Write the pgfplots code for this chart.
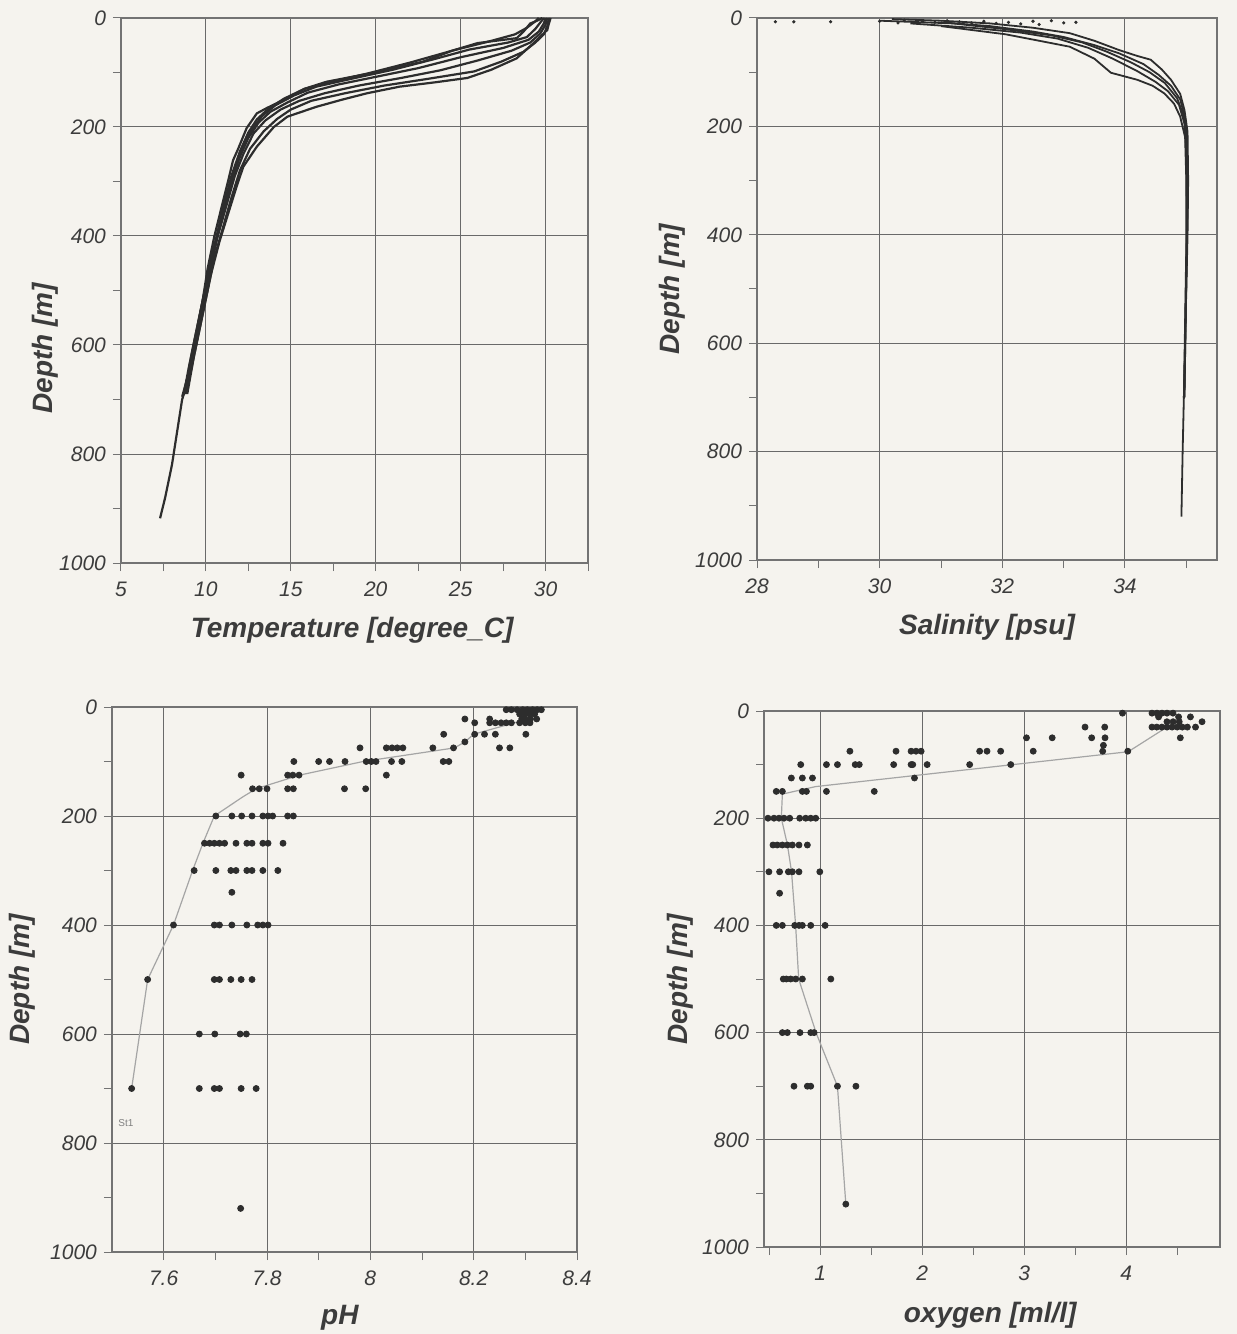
\documentclass[border=0pt]{standalone}
\usepackage{fontspec}
\setmainfont{Liberation Sans}[ItalicFont={Liberation Sans Italic}, BoldFont={Liberation Sans Bold}, BoldItalicFont={Liberation Sans Bold Italic}]
\usepackage{pgfplots}
\pgfplotsset{compat=1.18}
\definecolor{bgc}{RGB}{245,243,238}
\definecolor{gridc}{RGB}{105,105,105}
\definecolor{framec}{RGB}{115,115,115}
\definecolor{txtc}{RGB}{60,60,60}
\definecolor{datac}{RGB}{45,45,45}
\definecolor{meanc}{RGB}{165,165,165}
\newcommand{\tfont}{\fontsize{10.5}{12}\selectfont\itshape}
\newcommand{\lfont}{\fontsize{14}{16}\selectfont\bfseries\itshape}
\tikzset{wm/.style={rotate=90, anchor=north west, font=\fontsize{4}{5}\selectfont, text=gray}}
\pgfplotsset{
 odv/.style={
  scale only axis, anchor=south west,
  y dir=reverse, ymin=0, ymax=1000,
  ytick={0,200,...,1000}, minor ytick={100,300,...,900},
  grid=major, major grid style={gridc, line width=0.5pt},
  axis line style={framec, line width=0.6pt},
  tick style={framec, line width=0.5pt},
  major tick length=4pt, minor tick length=4pt,
  tick align=outside,
  xtick pos=left, ytick pos=left,
  /pgf/number format/assume math mode=true,
  /pgf/number format/1000 sep={},
  xticklabel style={font=\tfont, text=txtc, yshift=-2pt},
  yticklabel style={font=\tfont, text=txtc},
  every axis y label/.style={rotate=90, anchor=center, font=\lfont, text=txtc},
  every axis x label/.style={anchor=center, font=\lfont, text=txtc},
  ylabel={Depth [m]},
 },
 prof/.style={datac, line width=1.1pt},
 sprof/.style={datac, line width=0.9pt},
 dots/.style={only marks, mark=*, mark size=1.5pt, datac},
 meanl/.style={meanc, line width=0.6pt, mark=none},
}
\begin{document}
\begin{tikzpicture}
\fill[bgc, use as bounding box] (0,0) rectangle (618.5pt,667pt);

% ---------------- Temperature ----------------
\begin{axis}[odv, at={(60.5pt,385.5pt)}, width=233.5pt, height=272.5pt,
  xmin=5, xmax=32.5, xtick={5,10,...,30}, minor xtick={7.5,12.5,...,32.5},
  xlabel={Temperature [degree\_C]},
  xlabel style={at={(axis description cs:0.495,-0.123)}},
  ylabel style={at={(axis description cs:-0.163,0.394)}}]
\addplot[prof] coordinates {(29.8,0)(29.5,5)(29.1,10)(28.7,25)(28.3,37)(26.0,46)(24.5,60)(22.8,80)(20.1,99)(17.1,117)(15.8,130)(14.8,147)(13.6,165)(13.0,175)(12.4,202)(11.9,240)(11.6,261)(11.3,300)(10.9,350)(10.5,400)(10.1,460)(9.8,520)(9.4,580)(9.0,640)(8.7,690)};
\addplot[prof] coordinates {(29.9,0)(29.7,8)(29.4,20)(28.9,35)(27.8,45)(25.5,58)(23.5,75)(21.0,95)(18.5,112)(16.5,126)(15.2,142)(14.1,160)(13.3,180)(12.7,205)(12.1,240)(11.7,275)(11.2,330)(10.8,380)(10.4,430)(10.0,490)(9.6,550)(9.2,610)(8.8,680)};
\addplot[prof] coordinates {(30.0,0)(29.9,10)(29.6,25)(29.0,40)(27.5,55)(25.0,72)(22.5,92)(20.0,108)(17.8,122)(16.0,137)(14.8,155)(13.8,172)(13.1,192)(12.5,220)(12.0,255)(11.5,300)(11.0,360)(10.6,410)(10.2,465)(9.8,525)(9.4,590)(9.0,650)(8.6,695)};
\addplot[prof] coordinates {(30.1,0)(30.0,12)(29.7,28)(29.1,45)(28.0,60)(26.0,78)(23.8,96)(21.5,110)(19.0,124)(17.0,138)(15.5,152)(14.4,168)(13.5,188)(12.8,212)(12.2,250)(11.7,290)(11.2,345)(10.7,400)(10.3,455)(9.9,515)(9.5,575)(9.1,640)(8.8,690)};
\addplot[prof] coordinates {(30.2,0)(30.1,15)(29.9,30)(29.4,45)(28.7,62)(27.4,80)(25.8,98)(23.0,112)(20.5,124)(18.2,138)(16.2,152)(15.0,168)(14.2,185)(13.4,208)(12.6,240)(12.0,280)(11.5,330)(11.0,385)(10.5,440)(10.1,500)(9.7,560)(9.3,620)(8.9,690)};
\addplot[prof] coordinates {(29.6,0)(29.4,6)(28.9,18)(28.2,30)(26.8,42)(24.5,60)(22.0,82)(19.5,102)(17.5,116)(15.8,130)(14.6,148)(13.7,166)(13.0,186)(12.5,210)(12.0,245)(11.5,290)(11.0,350)(10.6,405)(10.2,460)(9.8,520)(9.4,585)(9.0,650)(8.7,692)};
\addplot[prof] coordinates {(30.3,0)(30.2,10)(30.1,22)(29.3,46)(28.3,74)(26.8,95)(25.4,110)(23.5,118)(21.4,126)(19.5,138)(18.0,150)(16.5,163)(14.8,181)(14.0,200)(13.0,236)(12.2,273)(11.8,310)(11.3,360)(10.8,410)(10.3,470)(9.9,530)(9.5,590)(9.1,650)(8.6,700)(8.3,760)(8.0,820)(7.6,880)(7.3,918)};
\node[wm] at (axis description cs:1.008,0.005) {Ocean Data View};
\end{axis}

% ---------------- Salinity ----------------
\begin{axis}[odv, at={(378.5pt,387pt)}, width=230pt, height=271pt,
  xmin=28, xmax=35.5, xtick={28,30,32,34}, minor xtick={29,31,33,35},
  xlabel={Salinity [psu]},
  xlabel style={at={(axis description cs:0.5,-0.125)}},
  ylabel style={at={(axis description cs:-0.185,0.5)}}]
\addplot[sprof] coordinates {(30.2,2)(31.0,5)(31.8,10)(32.5,18)(33.1,28)(33.5,42)(33.9,59)(34.2,70)(34.42,77)(34.6,95)(34.75,114)(34.9,140)(34.97,170)(35.02,210)(35.03,300)(35.02,400)(35.0,500)(34.98,600)(34.97,700)};
\addplot[sprof] coordinates {(31.0,8)(31.8,15)(32.5,25)(33.0,35)(33.5,50)(33.9,65)(34.3,85)(34.55,105)(34.75,125)(34.9,150)(34.98,185)(35.01,230)(35.02,350)(35.0,480)(34.98,620)(34.96,700)};
\addplot[sprof] coordinates {(30.5,10)(31.5,18)(32.3,27)(32.9,38)(33.4,55)(33.8,75)(34.2,98)(34.5,118)(34.7,135)(34.88,160)(34.97,195)(35.0,250)(35.01,400)(34.99,550)(34.97,700)};
\addplot[sprof] coordinates {(31.0,15)(32.05,30)(32.6,42)(33.1,53)(33.5,75)(33.77,101)(34.2,114)(34.45,125)(34.64,139)(34.8,158)(34.9,182)(34.98,220)(35.0,300)(35.0,420)(34.98,560)(34.96,700)(34.94,800)(34.92,920)};
\addplot[sprof] coordinates {(30.0,5)(31.2,10)(32.0,20)(32.8,32)(33.3,45)(33.7,62)(34.1,82)(34.4,100)(34.65,120)(34.85,148)(34.95,178)(35.0,215)(35.02,320)(35.0,450)(34.98,600)(34.96,700)};
\addplot[only marks, mark=*, mark size=0.6pt, datac] coordinates {(28.3,7)(28.6,7)(29.2,7)(30.0,6)(30.3,9)(30.4,4)(30.7,6)(30.9,8)(31.1,5)(31.3,7)(31.5,9)(31.7,6)(31.9,10)(32.1,8)(32.3,11)(32.5,6)(32.6,12)(32.8,5)(33.0,9)(33.2,8)};
\node[wm] at (axis description cs:1.008,0.005) {Ocean Data View};
\end{axis}

% ---------------- pH ----------------
\begin{axis}[odv, at={(56pt,41pt)}, width=232.5pt, height=272.5pt,
  xmin=7.5, xmax=8.4, xtick={7.6,7.8,8,8.2,8.4}, minor xtick={7.7,7.9,8.1,8.3},
  xlabel={pH},
  xlabel style={at={(axis description cs:0.49,-0.121)}},
  ylabel style={at={(axis description cs:-0.194,0.5)}}]
\addplot[meanl] coordinates {(8.29,26)(8.20,50)(8.183,64)(8.163,75)(7.986,100)(7.863,125)(7.779,150)(7.753,165)(7.698,200)(7.676,250)(7.656,300)(7.619,400)(7.569,500)(7.538,700)};
\addplot[dots] coordinates {
(8.263,5)(8.273,5)(8.284,5)(8.295,5)(8.304,5)(8.314,5)(8.323,5)(8.331,5)
(8.289,13)(8.299,13)(8.309,13)(8.318,13)
(8.183,22)(8.231,22)(8.293,22)(8.300,22)(8.310,22)(8.322,22)
(8.202,29)(8.231,29)(8.242,29)(8.253,29)(8.263,29)(8.273,29)(8.289,29)(8.300,29)(8.309,29)
(8.142,50)(8.202,50)(8.221,50)(8.242,50)(8.301,50)
(8.183,64)
(7.980,75)(8.031,75)(8.042,75)(8.052,75)(8.063,75)(8.121,75)(8.161,75)(8.250,75)(8.270,75)
(7.852,100)(7.900,100)(7.921,100)(7.951,100)(7.992,100)(8.002,100)(8.011,100)(8.041,100)(8.061,100)(8.141,100)(8.152,100)
(7.750,125)(7.840,125)(7.850,125)(7.862,125)(8.031,125)
(7.772,150)(7.785,150)(7.800,150)(7.840,150)(7.851,150)(7.950,150)(7.991,150)
(7.701,200)(7.732,200)(7.751,200)(7.771,200)(7.792,200)(7.802,200)(7.811,200)(7.840,200)(7.851,200)
(7.679,250)(7.689,250)(7.698,250)(7.708,250)(7.718,250)(7.740,250)(7.761,250)(7.771,250)(7.792,250)(7.802,250)(7.831,250)
(7.659,300)(7.701,300)(7.730,300)(7.740,300)(7.761,300)(7.771,300)(7.792,300)(7.821,300)
(7.732,340)
(7.619,400)(7.698,400)(7.708,400)(7.732,400)(7.761,400)(7.782,400)(7.792,400)(7.802,400)
(7.569,500)(7.698,500)(7.708,500)(7.730,500)(7.750,500)(7.771,500)
(7.669,600)(7.699,600)(7.748,600)(7.760,600)
(7.538,700)(7.669,700)(7.698,700)(7.708,700)(7.750,700)(7.779,700)
(7.749,920)};
\node[font=\fontsize{5}{6}\selectfont, text=gray] at (axis cs:7.527,763) {St1};
\node[wm] at (axis description cs:1.008,0.005) {Ocean Data View};
\end{axis}

% ---------------- Oxygen ----------------
\begin{axis}[odv, at={(382pt,43.5pt)}, width=228pt, height=268pt,
  xmin=0.45, xmax=4.92, xtick={1,2,3,4}, minor xtick={0.5,1.5,2.5,3.5,4.5},
  xlabel={oxygen [ml/l]},
  xlabel style={at={(axis description cs:0.496,-0.127)}},
  ylabel style={at={(axis description cs:-0.184,0.5)}}]
\addplot[meanl] coordinates {(4.40,30)(4.02,76)(2.89,100)(0.957,141)(0.63,155)(0.62,200)(0.68,250)(0.72,300)(0.76,400)(0.79,500)(0.96,600)(1.17,700)(1.252,920)};
\addplot[dots] coordinates {
(3.964,4)(4.253,4)(4.302,4)(4.351,4)(4.400,4)(4.459,4)
(4.318,11)(4.514,11)(4.630,11)
(4.400,20)(4.460,20)(4.520,20)(4.744,20)
(3.597,30)(3.790,30)(4.253,30)(4.300,30)(4.350,30)(4.400,30)(4.450,30)(4.500,30)(4.550,30)(4.600,30)(4.680,30)
(3.023,50)(3.275,50)(3.662,50)(3.793,50)(4.531,50)
(3.777,64)
(1.292,75)(1.744,75)(1.892,75)(1.940,75)(1.990,75)(2.564,75)(2.636,75)(2.770,75)(3.089,75)(3.770,75)(4.016,75)
(0.810,100)(1.062,100)(1.170,100)(1.344,100)(1.384,100)(1.721,100)(1.892,100)(1.908,100)(2.049,100)(2.466,100)(2.869,100)
(0.718,125)(0.826,125)(0.925,125)(1.925,125)
(0.570,150)(0.630,150)(0.826,150)(0.866,150)(1.062,150)(1.531,150)
(0.489,200)(0.548,200)(0.597,200)(0.646,200)(0.702,200)(0.800,200)(0.859,200)(0.908,200)(0.957,200)
(0.538,250)(0.580,250)(0.630,250)(0.679,250)(0.728,250)(0.793,250)(0.875,250)
(0.498,300)(0.603,300)(0.689,300)(0.728,300)(0.793,300)(0.997,300)
(0.603,340)
(0.570,400)(0.630,400)(0.751,400)(0.793,400)(0.826,400)(0.908,400)(1.049,400)
(0.639,500)(0.669,500)(0.711,500)(0.761,500)(0.826,500)(1.105,500)
(0.630,600)(0.679,600)(0.803,600)(0.908,600)(0.941,600)
(0.744,700)(0.875,700)(0.908,700)(1.170,700)(1.351,700)
(1.252,920)};
\node[wm] at (axis description cs:1.008,0.005) {Ocean Data View};
\end{axis}
\end{tikzpicture}
\end{document}
